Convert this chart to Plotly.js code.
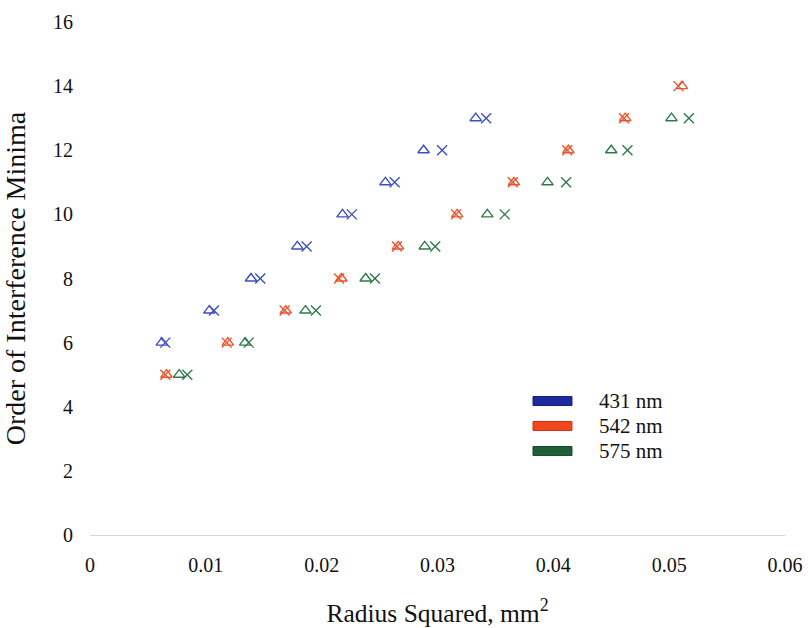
<!DOCTYPE html>
<html>
<head>
<meta charset="utf-8">
<script src="https://cdn.plot.ly/plotly-3.0.1.min.js"></script>
<style>
  html, body { margin: 0; padding: 0; background: #fff; }
  #chart { width: 808px; height: 628px; }
</style>
</head>
<body>
<div id="chart"></div>
<script>
// Order of each interference minimum, per wavelength
const orders431 = [6, 7, 8, 9, 10, 11, 12, 13];
const orders542 = [5, 6, 7, 8, 9, 10, 11, 12, 13, 14];
const orders575 = [5, 6, 7, 8, 9, 10, 11, 12, 13];

// Radius squared (mm^2) of the minima, two measurement sets per wavelength
const triangle431 = [0.0062, 0.0103, 0.0139, 0.0179, 0.0218, 0.0255, 0.0288, 0.0333];
const cross431    = [0.0065, 0.0107, 0.0147, 0.0187, 0.0226, 0.0263, 0.0304, 0.0342];
const triangle542 = [0.0066, 0.0119, 0.0169, 0.0217, 0.0266, 0.0317, 0.0366, 0.0413, 0.0462, 0.0511];
const cross542    = [0.0065, 0.0118, 0.0168, 0.0215, 0.0265, 0.0316, 0.0365, 0.0412, 0.0461, 0.0508];
const triangle575 = [0.0077, 0.0134, 0.0186, 0.0238, 0.0289, 0.0343, 0.0395, 0.0450, 0.0502];
const cross575    = [0.0084, 0.0137, 0.0195, 0.0246, 0.0298, 0.0358, 0.0411, 0.0464, 0.0517];

const legendLabels = ['431 nm', '542 nm', '575 nm'];
const xTickVals = [0, 0.01, 0.02, 0.03, 0.04, 0.05, 0.06];
const xTickText = ['0', '0.01', '0.02', '0.03', '0.04', '0.05', '0.06'];
const yTickVals = [0, 2, 4, 6, 8, 10, 12, 14, 16];

const markColors = ['#3d4fc4', '#ec5430', '#2f7a4c'];
const swatchColors = ['#1b2a9c', '#f2461f', '#1f5f35'];
const swatchEdges = ['#14207a', '#c83418', '#174a29'];

function pointTrace(xs, ys, symbol, color) {
  return {
    type: 'scatter', mode: 'markers', x: xs, y: ys, showlegend: false,
    hoverinfo: 'x+y',
    marker: { symbol: symbol, size: 10, color: color, line: { width: 1.4, color: color } }
  };
}

const data = [
  pointTrace(triangle431, orders431, 'triangle-up-open', markColors[0]),
  pointTrace(cross431, orders431, 'x-thin-open', markColors[0]),
  pointTrace(triangle542, orders542, 'triangle-up-open', markColors[1]),
  pointTrace(cross542, orders542, 'x-thin-open', markColors[1]),
  pointTrace(triangle575, orders575, 'triangle-up-open', markColors[2]),
  pointTrace(cross575, orders575, 'x-thin-open', markColors[2])
];

const serif = 'Liberation Serif, Times New Roman, serif';

// Key box: a filled bar and a label per wavelength, placed in paper space
const keyRows = [0.2612, 0.2125, 0.1637];
const keyShapes = legendLabels.map((_, i) => ({
  type: 'rect', xref: 'paper', yref: 'paper',
  x0: 0.6374, x1: 0.6935, y0: keyRows[i] - 0.0088, y1: keyRows[i] + 0.0088,
  fillcolor: swatchColors[i], line: { color: swatchEdges[i], width: 1 }
}));
const keyLabels = legendLabels.map((label, i) => ({
  xref: 'paper', yref: 'paper', x: 0.7295, y: keyRows[i],
  xanchor: 'left', yanchor: 'middle', showarrow: false,
  text: label, font: { family: serif, size: 21, color: '#111' }
}));

const layout = {
  width: 808, height: 628,
  margin: { l: 90, r: 23, t: 22, b: 93 },
  paper_bgcolor: '#fff', plot_bgcolor: '#fff',
  font: { family: serif, size: 19, color: '#111' },
  showlegend: false,
  shapes: keyShapes,
  annotations: keyLabels,
  xaxis: {
    range: [0, 0.06], tickvals: xTickVals, ticktext: xTickText,
    showgrid: false, zeroline: false,
    showline: true, linecolor: '#d6d6d6', linewidth: 1,
    ticks: '', ticklabelstandoff: 12,
    tickfont: { family: serif, size: 20, color: '#111' },
    title: { text: 'Radius Squared, mm<sup>2</sup>', font: { family: serif, size: 25.5, color: '#111' } }
  },
  yaxis: {
    range: [0, 16], tickvals: yTickVals,
    showgrid: false, zeroline: false, showline: false,
    ticks: '', ticklabelstandoff: 16,
    tickfont: { family: serif, size: 20, color: '#111' },
    title: { text: 'Order of Interference Minima', font: { family: serif, size: 28, color: '#111' } }
  }
};

Plotly.newPlot('chart', data, layout, { displayModeBar: false, staticPlot: true });
</script>
</body>
</html>
